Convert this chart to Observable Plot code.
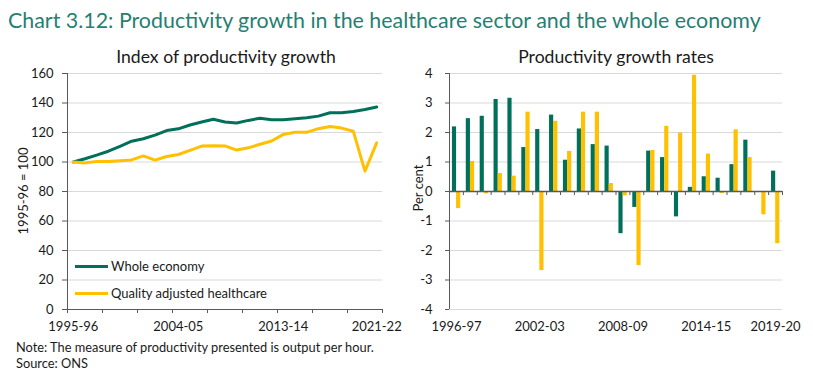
<!DOCTYPE html>
<html>
<head>
<meta charset="utf-8">
<script src="https://cdn.jsdelivr.net/npm/d3@7"></script>
<script src="https://cdn.jsdelivr.net/npm/@observablehq/plot@0.6"></script>
<style>
  html, body { margin: 0; padding: 0; background: #fff; }
  #wrap { position: relative; width: 813px; height: 385px; overflow: hidden; font-family: Lato, "Open Sans", sans-serif; color: #1a1a1a; }
  .abs { position: absolute; white-space: nowrap; }
  #title { left: 8px; top: 8px; font-size: 21.4px; color: #257f73; line-height: 24px; }
  .sub { font-size: 17.6px; line-height: 20px; transform: translateX(-50%); top: 47px; }
  .ylab { font-size: 13px; line-height: 16px; transform: translate(-50%, -50%) rotate(-90deg); }
  .leg { font-size: 13px; line-height: 16px; display: flex; align-items: center; transform: translateY(-50%); }
  .sw { display: inline-block; width: 33px; height: 3px; margin-right: 3px; }
  .note { font-size: 12.8px; line-height: 16px; left: 16px; }
  svg { position: absolute; overflow: visible; }
</style>
</head>
<body>
<div id="wrap"></div>
<script>
// ---- data ----
const indexYears = ["1995-96","1996-97","1997-98","1998-99","1999-00","2000-01","2001-02","2002-03","2003-04","2004-05","2005-06","2006-07","2007-08","2008-09","2009-10","2010-11","2011-12","2012-13","2013-14","2014-15","2015-16","2016-17","2017-18","2018-19","2019-20","2020-21","2021-22"];
const wholeEconomyIndex = [100,102.2,104.7,107.3,110.6,114.1,115.8,118.2,121.3,122.5,125.1,127.1,129.0,127.1,126.5,128.2,129.7,128.6,128.7,129.4,130.0,131.1,133.4,133.4,134.3,135.6,137.3];
const healthcareIndex = [100,99.4,100.4,100.3,100.9,101.4,104.1,101.3,103.7,105.1,107.9,110.8,111.1,110.9,108.1,109.6,112.0,114.2,118.7,120.2,120.1,122.6,124.0,123.0,120.8,93.8,113.0];
const indexTickLabels = ["1995-96","2004-05","2013-14","2021-22"];
const indexYTicks = [0,20,40,60,80,100,120,140,160];

const rateYears = ["1996-97","1997-98","1998-99","1999-00","2000-01","2001-02","2002-03","2003-04","2004-05","2005-06","2006-07","2007-08","2008-09","2009-10","2010-11","2011-12","2012-13","2013-14","2014-15","2015-16","2016-17","2017-18","2018-19","2019-20"];
const wholeEconomyRates = [2.19,2.47,2.55,3.12,3.16,1.49,2.10,2.59,1.06,2.12,1.59,1.54,-1.43,-0.54,1.37,1.15,-0.86,0.14,0.50,0.45,0.91,1.74,-0.02,0.69];
const healthcareRates = [-0.58,1.02,-0.08,0.61,0.52,2.69,-2.68,2.38,1.36,2.69,2.69,0.27,-0.15,-2.51,1.39,2.21,1.98,3.94,1.27,-0.07,2.09,1.15,-0.79,-1.77];
const rateTickLabels = ["1996-97","2002-03","2008-09","2014-15","2019-20"];
const rateYTicks = [-4,-3,-2,-1,0,1,2,3,4];

const seriesNames = ["Whole economy","Quality adjusted healthcare"];
const GREEN = "#00705a", YELLOW = "#ffc000", AXIS = "#595959", GRID = "#d9d9d9";
const FONT = 'Lato, "Open Sans", sans-serif';

const wrap = document.getElementById("wrap");
function addDiv(cls, text, css) {
  const d = document.createElement("div");
  d.className = "abs " + cls;
  if (text != null) d.textContent = text;
  Object.assign(d.style, css || {});
  wrap.appendChild(d);
  return d;
}

addDiv("", "Chart 3.12: Productivity growth in the healthcare sector and the whole economy").id = "title";
addDiv("sub", "Index of productivity growth", {left: "226px"});
addDiv("sub", "Productivity growth rates", {left: "616px"});

// ---- left chart ----
const idxRows = indexYears.map((y, i) => ({pos: i + 0.5, year: y, whole: wholeEconomyIndex[i], health: healthcareIndex[i]}));
const posOf = y => indexYears.indexOf(y) + 0.5;
const left = Plot.plot({
  width: 400, height: 280,
  marginLeft: 67, marginRight: 18, marginTop: 13, marginBottom: 31,
  style: {fontFamily: FONT, fontSize: "13px", color: "#1a1a1a", background: "transparent", overflow: "visible"},
  x: {domain: [0, indexYears.length]},
  y: {domain: [0, 160]},
  marks: [
    Plot.gridY(indexYTicks.filter(d => d > 0), {stroke: GRID, strokeOpacity: 1}),
    Plot.axisY(indexYTicks, {tickSize: 5, tickPadding: 9, stroke: AXIS, label: null, tickFormat: d => String(d)}),
    Plot.axisX(d3.range(0, indexYears.length + 1, 3), {tickSize: 4, stroke: AXIS, label: null, tickFormat: () => ""}),
    Plot.axisX(indexTickLabels.map(posOf), {tickSize: 0, tickPadding: 12, label: null, tickFormat: d => indexYears[d - 0.5]}),
    Plot.ruleX([0], {stroke: AXIS}),
    Plot.ruleY([0], {stroke: AXIS}),
    Plot.line(idxRows, {x: "pos", y: "whole", stroke: GREEN, strokeWidth: 3}),
    Plot.line(idxRows, {x: "pos", y: "health", stroke: YELLOW, strokeWidth: 3})
  ]
});
left.style.left = "0px"; left.style.top = "60px";

// ---- right chart ----
const rateRows = rateYears.map((y, i) => ({i, year: y, whole: wholeEconomyRates[i], health: healthcareRates[i]}));
const right = Plot.plot({
  width: 413, height: 280,
  marginLeft: 49, marginRight: 31, marginTop: 13, marginBottom: 31,
  style: {fontFamily: FONT, fontSize: "13px", color: "#1a1a1a", background: "transparent", overflow: "visible"},
  x: {domain: [0, rateYears.length]},
  y: {domain: [-4, 4]},
  marks: [
    Plot.gridY(rateYTicks.filter(d => d !== 0), {stroke: GRID, strokeOpacity: 1}),
    Plot.axisY(rateYTicks, {tickSize: 4, tickPadding: 13, stroke: AXIS, label: null, tickFormat: d => String(d)}),
    Plot.axisX(rateTickLabels.map(y => rateYears.indexOf(y) + 0.5), {tickSize: 0, tickPadding: 12, label: null, tickFormat: d => rateYears[d - 0.5]}),
    Plot.rect(rateRows, {x1: d => d.i + 0.21, x2: d => d.i + 0.51, y1: () => 0, y2: "whole", fill: GREEN}),
    Plot.rect(rateRows, {x1: d => d.i + 0.51, x2: d => d.i + 0.81, y1: () => 0, y2: "health", fill: YELLOW}),
    Plot.ruleX([0], {stroke: AXIS}),
    Plot.ruleY([0], {stroke: AXIS, strokeWidth: 1.5}),
    Plot.ruleX(d3.range(1, rateYears.length + 1), {x: d => d, y1: () => 0, y2: () => 0, insetBottom: -4, stroke: AXIS})
  ]
});
right.style.left = "400px"; right.style.top = "60px";
wrap.appendChild(right);
wrap.appendChild(left);

// ---- axis titles, legend, notes ----
addDiv("ylab", "1995-96 = 100", {left: "23px", top: "191px"});
addDiv("ylab", "Per cent", {left: "418px", top: "188px"});

[[seriesNames[0], GREEN, 266], [seriesNames[1], YELLOW, 293]].forEach(([name, col, y]) => {
  const d = addDiv("leg", null, {left: "75px", top: y + "px"});
  const sw = document.createElement("span"); sw.className = "sw"; sw.style.background = col;
  d.appendChild(sw); d.appendChild(document.createTextNode(name));
});

addDiv("note", "Note: The measure of productivity presented is output per hour.", {top: "339px"});
addDiv("note", "Source: ONS", {top: "355px"});
</script>
</body>
</html>
